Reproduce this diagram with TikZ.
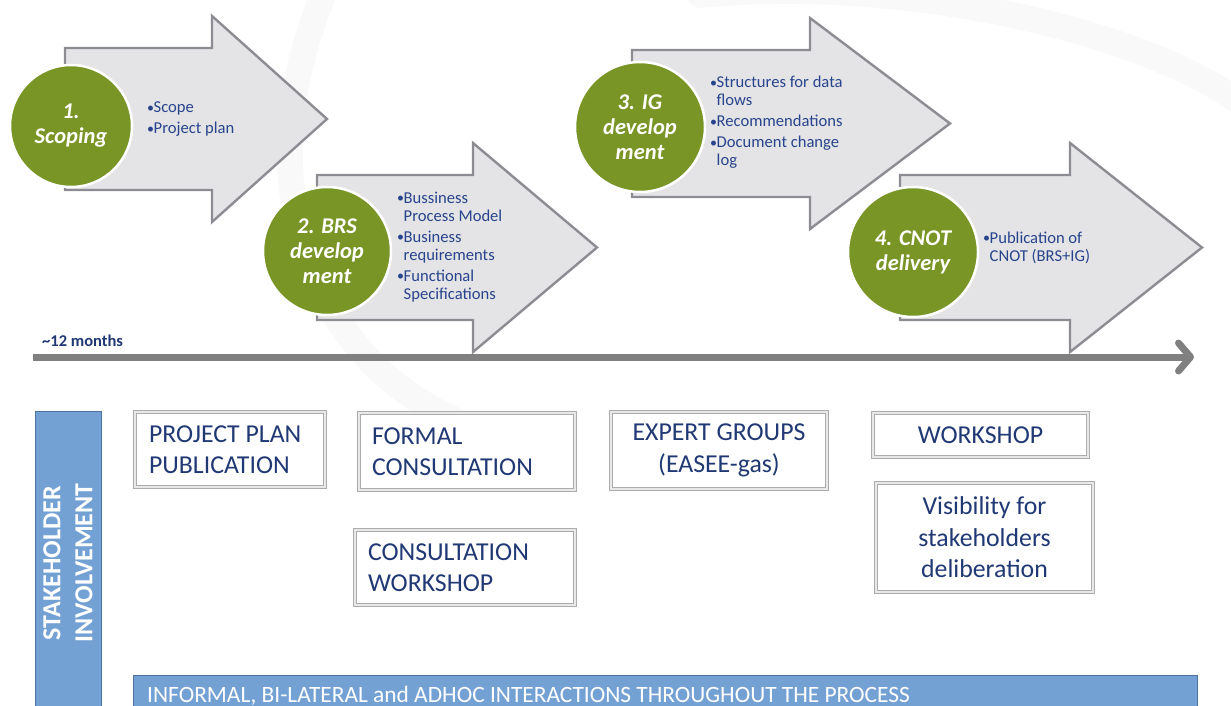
\documentclass[tikz,border=0pt]{standalone}
\usepackage{fontspec}
\setmainfont{Carlito}
\usetikzlibrary{arrows.meta}
\definecolor{phasegreen}{RGB}{120,149,38}
\definecolor{arrowfill}{RGB}{228,228,231}
\definecolor{arrowedge}{RGB}{140,140,146}
\definecolor{bullettext}{RGB}{40,68,140}
\definecolor{boxtext}{RGB}{32,56,116}
\definecolor{barblue}{RGB}{116,161,212}
\definecolor{baredge}{RGB}{80,112,160}
\definecolor{linegray}{RGB}{128,128,128}
\newcommand{\bullw}{6.5pt}
\newcommand{\bul}{\makebox[\bullw][l]{\fontsize{14}{14}\selectfont\raisebox{0.3pt}{•}}}
\newcommand{\ind}{\hspace*{\bullw}}
\tikzstyle{phase}=[circle, fill=phasegreen, draw=white, line width=2.5pt, text=white,
                   align=center, inner sep=0, font=\fontsize{22.5}{25}\selectfont\bfseries\itshape]
\tikzstyle{phasebody}=[fill=arrowfill, draw=arrowedge, line width=2.4pt, line join=miter]
\tikzstyle{bullets}=[anchor=base west, inner sep=0, text=bullettext, text width=175pt,
                     align=flush left, font=\fontsize{16.6}{18}\selectfont]
\tikzstyle{stakebox}=[draw=gray!65, double=gray!18, double distance=1.5pt, line width=1.2pt,
                      fill=white, text=boxtext, inner sep=0, font=\fontsize{25.8}{31.5}\selectfont]
\tikzstyle{bluebar}=[fill=barblue, draw=baredge, line width=1.2pt, inner sep=0]
\tikzstyle{swoosh}=[line width=26pt, gray!5, line cap=round]
% body left, body top, body bottom, head base, tip
\newcommand{\phasearrow}[5]{%
  \draw[phasebody] (#1,#2) -- (#4,#2) -- (#4,{#2-32}) -- (#5,{(#2+#3)/2})
    -- (#4,{#3+32}) -- (#4,#3) -- (#1,#3) -- cycle;}

\begin{document}
\begin{tikzpicture}[x=1pt, y=-1pt]
    \useasboundingbox (0,0) rectangle (1231,706);
    % faint background swooshes
    \draw[swoosh] (330,-20) .. controls (230,200) and (330,380) .. (480,430);
    \draw[swoosh] (700,-5) .. controls (900,-25) and (1150,30) .. (1250,110);

    % phases
    \phasearrow{65}{48}{190}{212}{327}
    \phasearrow{317}{175}{320}{473}{597}
    \phasearrow{632}{50}{197}{810}{950}
    \phasearrow{900}{175}{320}{1070}{1202}
    \node[phase, minimum size=122] (P1) at (71,126) {1.\\Scoping};
    \node[phase, minimum size=128] (P2) at (327,251) {2. BRS\\develop\\ment};
    \node[phase, minimum size=130] (P3) at (640,127) {3. IG\\develop\\ment};
    \node[phase, minimum size=130] (P4) at (913,252) {4. CNOT\\delivery};
    \node[bullets] (L1) at (147,113) {\bul Scope\\[3pt]\bul Project plan};
    \node[bullets] (L2) at (397,203) {\bul Bussiness\\\ind Process Model\\[3pt]\bul Business\\\ind requirements\\[3pt]\bul Functional\\\ind Specifications};
    \node[bullets] (L3) at (710,88) {\bul Structures for data\\\ind flows\\[3pt]\bul Recommendations\\[3pt]\bul Document change\\\ind log};
    \node[bullets] (L4) at (983,243) {\bul Publication of\\\ind CNOT (BRS+IG)};

    % timeline
    \coordinate (T0) at (33,357);
    \coordinate (T1) at (1194,357);
    \draw[line width=7pt, linegray, -{Straight Barb[length=12pt, width=28pt, round]}] (T0) -- (T1);
    \node[anchor=base west, inner sep=0, text=boxtext, font=\fontsize{16.5}{18}\selectfont\bfseries] (DUR) at (42,346) {\textasciitilde12 months};

    % stakeholder involvement
    \node[bluebar, anchor=north west, minimum width=66, minimum height=320] (SH) at (35,411) {};
    \node[rotate=90, inner sep=0, text=white, align=center, font=\fontsize{26}{32}\selectfont\bfseries] (SHT) at (68,563) {STAKEHOLDER\\INVOLVEMENT};
    \node[stakebox, minimum width=190, minimum height=75, text width=162, align=flush left] (PPP) at (230,449.5) {PROJECT PLAN\\PUBLICATION};
    \node[stakebox, minimum width=216, minimum height=77, text width=190, align=flush left] (FC) at (467,451.5) {FORMAL\\CONSULTATION};
    \node[stakebox, minimum width=220, minimum height=75, text width=194, align=flush left] (CW) at (465,567.5) {CONSULTATION\\WORKSHOP};
    \node[stakebox, minimum width=216, minimum height=77, text width=190, align=flush center] (EG) at (719,450.5) {EXPERT GROUPS\\(EASEE-gas)};
    \node[stakebox, minimum width=215, minimum height=44, text width=190, align=flush center] (WS) at (980.5,435) {WORKSHOP};
    \node[stakebox, minimum width=217, minimum height=109, text width=190, align=flush center] (VIS) at (984.5,537.5) {Visibility for\\stakeholders\\deliberation};
    \node[bluebar, anchor=north west, minimum width=1064, minimum height=50] (INF) at (133,675) {};
    \node[anchor=base west, inner sep=0, text=white, font=\fontsize{23.4}{23}\selectfont] (INFT) at (147,702.5) {INFORMAL, BI-LATERAL and ADHOC INTERACTIONS THROUGHOUT THE PROCESS};
\end{tikzpicture}
\end{document}
